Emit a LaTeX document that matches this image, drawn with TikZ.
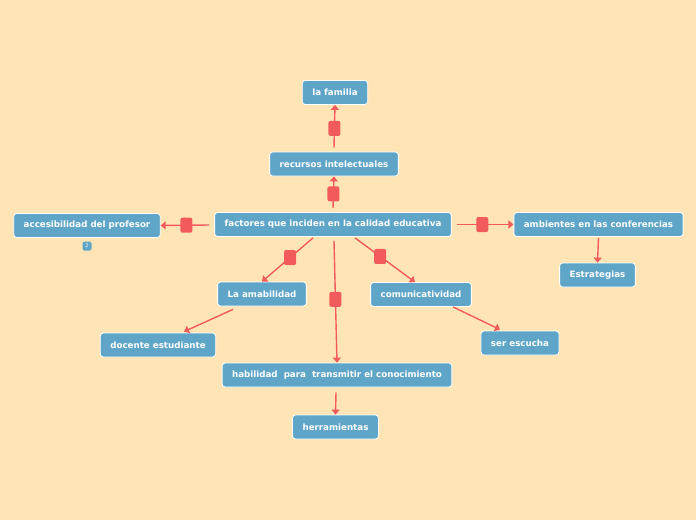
\documentclass[tikz,border=0pt]{standalone}
\usepackage{fontspec}
\setmainfont{DejaVu Sans}
\usetikzlibrary{arrows.meta,calc}
\definecolor{bg}{HTML}{FFE5B6}
\definecolor{nodeblue}{HTML}{5FA5C8}
\definecolor{linered}{HTML}{F15B5B}
\tikzset{
 topic/.style={draw=white, line width=0.8pt, fill=nodeblue, rounded corners=3pt, text=white,
   font=\fontsize{8.7}{10}\selectfont\bfseries, inner xsep=10pt, inner ysep=0pt, minimum height=24pt},
 conn/.style={draw=linered, line width=1.4pt, -{Triangle[width=8pt,length=5pt]}},
 sq/.style={fill=linered, draw=none, rounded corners=2pt, minimum width=12pt, minimum height=15pt, inner sep=0pt},
 badge/.style={fill=nodeblue, draw=none, rounded corners=1.5pt, text=white, font=\fontsize{5}{5}\selectfont,
   minimum width=9pt, minimum height=9pt, inner sep=0pt}
}
\begin{document}
\begin{tikzpicture}[x=1pt,y=-1pt]
\fill[bg] (0,0) rectangle (696,520);
\useasboundingbox (0,0) rectangle (696,520);

\node[topic] (familia) at (335,92.5) {la familia};
\node[topic] (recursos) at (334,164) {recursos intelectuales};
\node[topic] (factores) at (333,224.5) {factores que inciden en la calidad educativa};
\node[topic] (acces) at (87,225.5) {accesibilidad del profesor};
\node[badge] (badge) at (87,246) {2};
\node[topic] (amb) at (598.5,224.5) {ambientes en las conferencias};
\node[topic] (estr) at (597.5,275) {Estrategias};
\node[topic] (amab) at (262,294) {La amabilidad};
\node[topic] (comm) at (421,294.5) {comunicatividad};
\node[topic] (doc) at (158,345) {docente estudiante};
\node[topic] (ser) at (520,343) {ser escucha};
\node[topic] (hab) at (337,375) {habilidad\ \ para\ \ transmitir el conocimiento};
\node[topic] (herr) at (335.5,427) {herramientas};

\draw[conn] ($(factores.north)+(0,-4)$) -- node[sq, pos=0.45] (s1) {} (recursos.south);
\draw[conn] ($(recursos.north)+(0,-4)$) -- node[sq, pos=0.45] (s2) {} (familia.south);
\draw[conn] ($(factores.west)+(-5,0.5)$) -- node[sq, pos=0.47] (s3) {} (acces.east);
\draw[conn] ($(factores.east)+(5,0)$) -- node[sq, pos=0.45] (s4) {} (amb.west);
\draw[conn] ($(factores.south)+(-20,1)$) -- node[sq, pos=0.45] (s5) {} (amab.north);
\draw[conn] ($(factores.south)+(22,1)$) -- node[sq, pos=0.42] (s6) {} ($(comm.north)+(-6,0)$);
\draw[conn] ($(factores.south)+(1,4)$) -- node[sq, pos=0.48] (s7) {} (hab.north);
\draw[conn] ($(amab.south)+(-29,3)$) -- ($(doc.north)+(26,-1)$);
\draw[conn] ($(comm.south)+(32,0)$) -- ($(ser.north)+(-20,-1)$);
\draw[conn] ($(amb.south)+(0,1)$) -- (estr.north);
\draw[conn] ($(hab.south)+(-1,5)$) -- (herr.north);
\end{tikzpicture}
\end{document}
